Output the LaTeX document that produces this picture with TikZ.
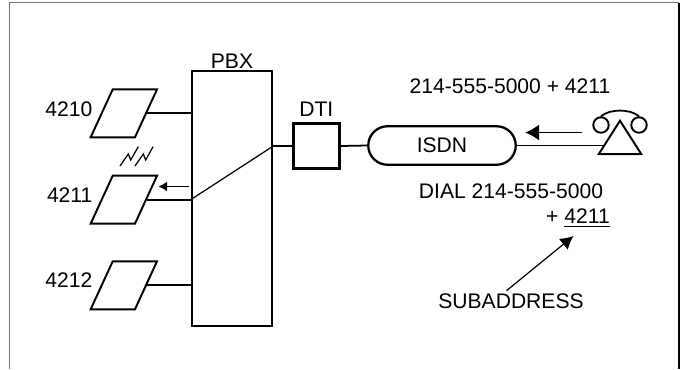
\documentclass[tikz,border=0pt]{standalone}
\usepackage{fontspec}
\setmainfont{Liberation Sans}
\usetikzlibrary{arrows.meta,positioning,shapes.geometric,shapes.misc}

\begin{document}
\begin{tikzpicture}[
  font=\fontsize{12}{14}\selectfont,
  box/.style={rectangle, draw, line width=1.5pt, inner sep=0pt},
  term/.style={rectangle, draw, line width=1.1pt, xslant=0.46, transform shape,
               minimum width=8.86mm, minimum height=9.6mm, inner sep=0pt},
  ear/.style={circle, draw, line width=1.1pt, minimum size=3.1mm, inner sep=0pt},
  lab/.style={anchor=east, inner sep=0pt},
  link/.style={line width=1pt},
  thinlink/.style={line width=0.7pt},
  flow/.style={-{Latex[length=1.7mm,width=2mm]}, line width=1pt},
  bigflow/.style={-{Latex[length=2.8mm,width=3.2mm]}, line width=1pt}
]
\useasboundingbox (0,0) rectangle (13.6,7.38);

% frame, open along the bottom
\draw[black!55, line width=1pt] (0.19,0) -- (0.19,7.33) -- (13.58,7.33);
\draw[line width=1pt] (13.58,7.33) -- (13.58,0);

\node[box, minimum width=16mm, minimum height=51mm] (pbx) at (4.64,3.41) {};
\node[above=0.02 of pbx, inner sep=0pt] (pbxl) {PBX};

\node[term] (t10) at (2.477,5.114) {};
\node[term] (t11) at (2.477,3.386) {};
\node[term] (t12) at (2.477,1.674) {};
\node[lab] (l10) at (1.854,5.2) {4210};
\node[lab] (l11) at (1.854,3.486) {4211};
\node[lab] (l12) at (1.854,1.78) {4212};

\coordinate (p10) at (pbx.west |- t10.east);
\coordinate (p11) at (pbx.west |- t11.east);
\coordinate (p12) at (pbx.west |- t12.east);
\draw[link] (t10.east) -- (p10);
\draw[link] (t11.east) -- (p11);
\draw[link] (t12.east) -- (p12);

\node[box, minimum width=9.2mm, minimum height=9.1mm] (dti) at (6.327,4.46) {};
\node[above=0.1 of dti, inner sep=0pt] (dtil) {DTI};
\coordinate (p20) at (pbx.east |- dti.west);
\draw[link] (p20) -- (dti.west);
\draw[thinlink] (p20) -- (p11);

\node[rounded rectangle, draw, line width=1.3pt, minimum width=29.5mm,
      minimum height=7.7mm, inner sep=0pt] (isdn) at (8.84,4.47) {ISDN};
\draw[link] (dti.east) -- (isdn.west);

\node[isosceles triangle, isosceles triangle apex angle=65, shape border rotate=90,
      draw, line width=1.1pt, minimum height=6.7mm, inner sep=0pt] (tel) at (12.4,4.53) {};
\draw[link] (isdn.east) -- (tel.west |- isdn.east);

% handset
\node[ear] (earl) at (12.02,4.88) {};
\node[ear] (earr) at (12.78,4.88) {};
\draw[link] (earl.north) to[out=40,in=140,looseness=0.8] (earr.north);

\coordinate (a1) at (3.78,3.65);
\coordinate (a2) at (3.17,3.65);
\draw[flow] (a1) -- (a2);
\coordinate (b1) at (11.63,4.73);
\coordinate (b2) at (10.5,4.73);
\draw[bigflow] (b1) -- (b2);

% signal mark above 4211
\draw[thinlink] (2.4,4.06) -- (2.566,4.30) -- (2.614,4.18) -- (2.766,4.446);
\draw[thinlink] (2.7,4.06) -- (2.866,4.30) -- (2.914,4.18) -- (3.06,4.446);

\node (dial) at (10.2,5.66) {214-555-5000 + 4211};
\node (num) at (10.22,3.56) {DIAL 214-555-5000};
\node (plus) at (11.56,3.02) {+ \underline{4211}};
\node[inner sep=0pt] (sub) at (10.22,1.35) {SUBADDRESS};
\coordinate (tip) at (11.47,2.66);
\draw[-{Latex[length=2.6mm,width=2.8mm]}, thinlink] (sub.north) ++(-0.09,0.06) -- (tip);

\end{tikzpicture}
\end{document}
